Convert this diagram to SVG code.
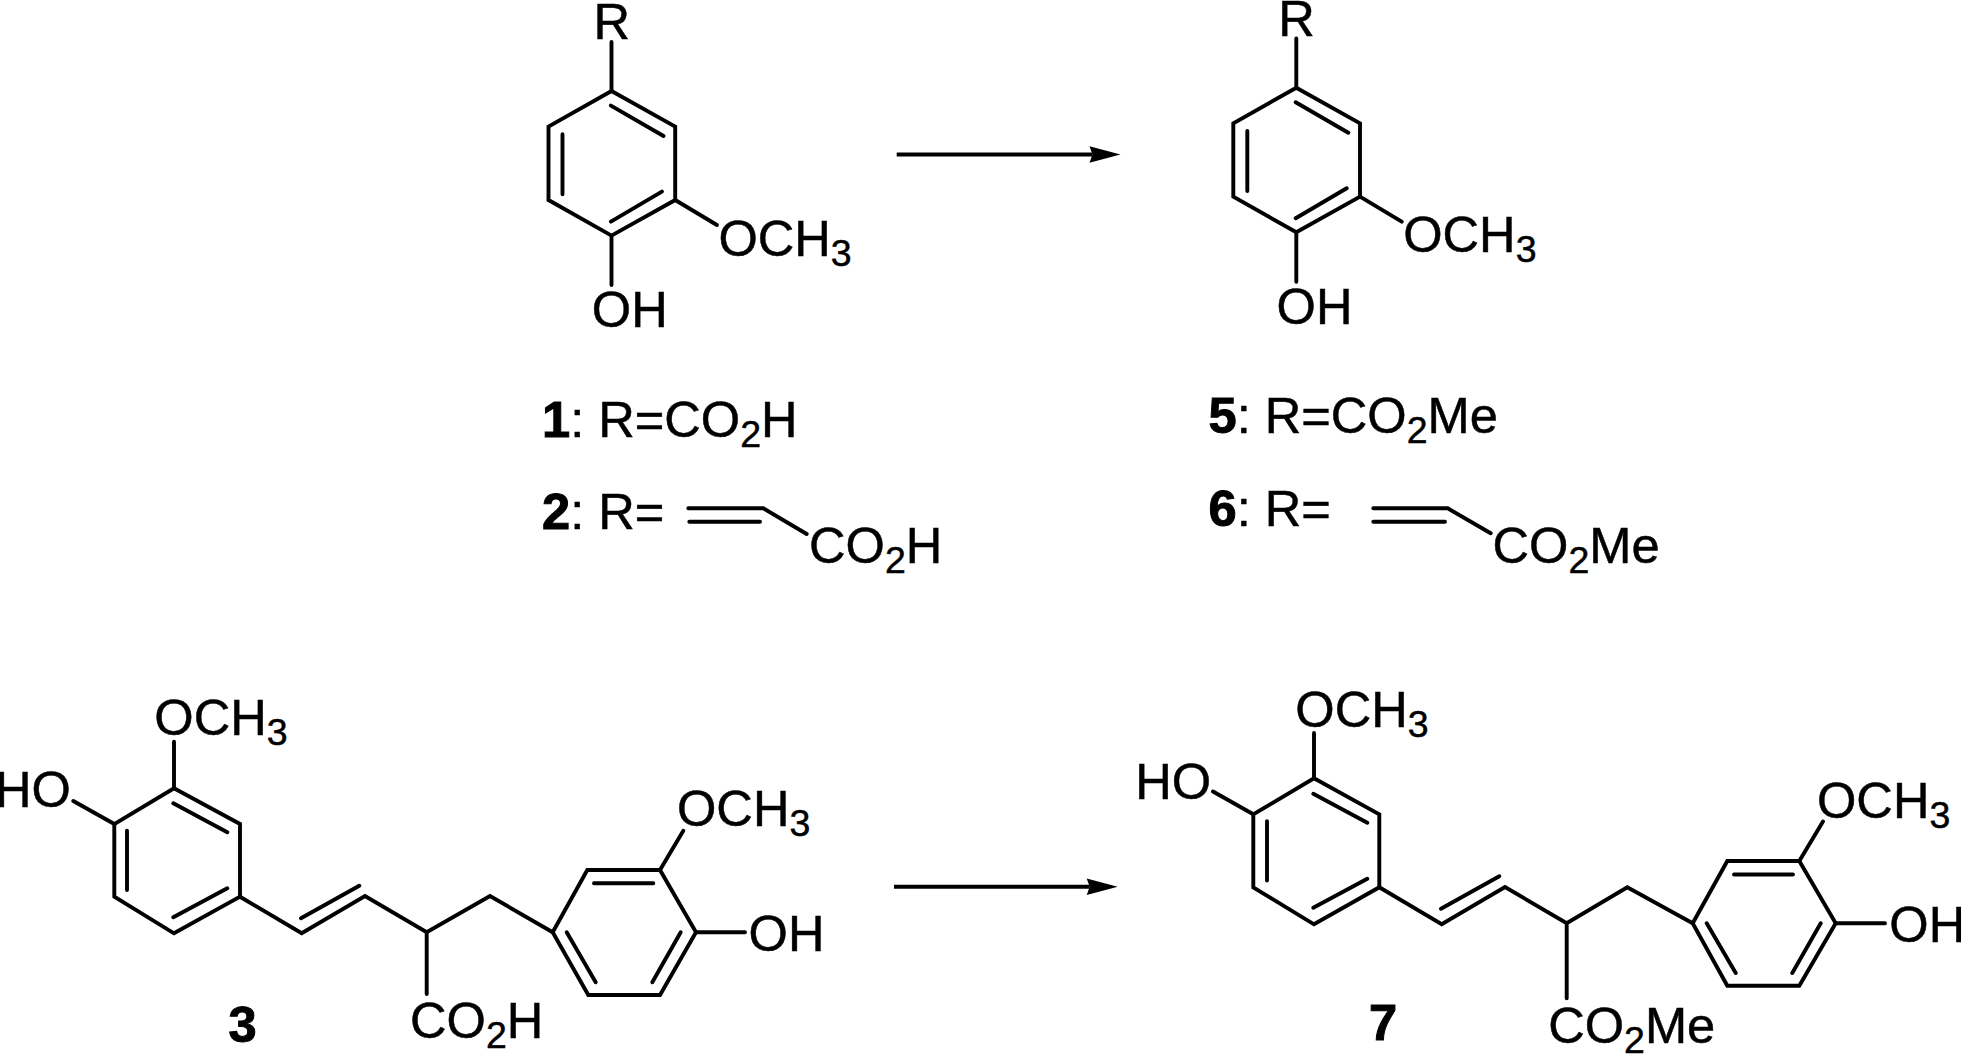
<svg xmlns="http://www.w3.org/2000/svg" width="1961" height="1054" viewBox="0 0 1961 1054">
<style>
.b{fill:none;stroke:#000;stroke-width:3.9;stroke-linejoin:miter;stroke-linecap:round}
.t{font-family:"Liberation Sans",Arial,sans-serif;font-size:50.6px;fill:#000;stroke:#000;stroke-width:0.5}
.s{font-size:37.5px}
.n{font-weight:bold;stroke-width:1}
.a{fill:none;stroke:#000;stroke-width:4}
</style>
<defs>
<marker id="head" markerUnits="userSpaceOnUse" markerWidth="32" markerHeight="18" refX="3" refY="8.5" orient="auto" overflow="visible">
<path d="M0,0.2L31,8.5L0,16.8L3,8.5Z" fill="#000"/>
</marker>
</defs>
<rect width="1961" height="1054" fill="#fff"/>
<g id="connectors">
<path class="a" d="M896.7,154.5H1092.5" marker-end="url(#head)"/>
<path class="a" d="M894,886.7H1089.7" marker-end="url(#head)"/>
</g>
<g id="node-1">
<path class="b" d="M611.5,91L675.2,126.6V200L611.5,235.6L548.5,200V126.6Z"/>
<path class="b" d="M611.5,42V91M610.9,105.6L663.5,136M562.5,134.3V194.3M610.9,221.6L661.9,191.6M611.5,235.6V285M675.2,200L716.9,225"/>
<text class="t" x="593.5" y="39.3">R</text>
<text class="t" x="718.4" y="255.6">OCH<tspan class="s" dy="10">3</tspan></text>
<text class="t" x="591.8" y="327.3">OH</text>
<text class="t" x="542" y="436.7"><tspan class="n">1</tspan>: R=CO<tspan class="s" dy="10">2</tspan><tspan dy="-10">H</tspan></text>
<text class="t" x="542" y="529"><tspan class="n">2</tspan>: R=</text>
<path class="b" d="M688.3,508.3H763.3L806.7,534M689.3,521.7H760"/>
<text class="t" x="809" y="563.3">CO<tspan class="s" dy="10">2</tspan><tspan dy="-10">H</tspan></text>
</g>
<g id="node-5">
<path class="b" d="M1296.3,87.7L1360,123.3V196.7L1296.3,232.3L1233.3,196.7V123.3Z"/>
<path class="b" d="M1296.3,38.5V87.7M1295.7,102.3L1348.3,132.7M1247.3,131V191M1295.7,218.3L1346.7,188.3M1296.3,232.3V281.7M1360,196.7L1401.7,221.7"/>
<text class="t" x="1278.3" y="36">R</text>
<text class="t" x="1403.2" y="252.3">OCH<tspan class="s" dy="10">3</tspan></text>
<text class="t" x="1276.6" y="324">OH</text>
<text class="t" x="1208.5" y="432.7"><tspan class="n">5</tspan>: R=CO<tspan class="s" dy="10">2</tspan><tspan dy="-10">Me</tspan></text>
<text class="t" x="1208.5" y="526"><tspan class="n">6</tspan>: R=</text>
<path class="b" d="M1373.3,508.3H1447.7L1490.7,533.3M1373.3,521.7H1445"/>
<text class="t" x="1492.5" y="563.3">CO<tspan class="s" dy="10">2</tspan><tspan dy="-10">Me</tspan></text>
</g>
<g id="node-3">
<path class="b" d="M174,788.3L240,824V896.7L174,933.3L114.3,896.7V824Z"/>
<path class="b" d="M173.3,803.3L227.3,832.3M127,830.7V890M173.3,917.3L227.3,888.3M174,788.3V741.7M114.3,824L73.3,801"/>
<path class="b" d="M240,896.7L301.7,933.3L365,896L426.7,932.3L490,896L552.7,932.3M301,918.3L359.3,885.7M426.7,932.3V994"/>
<path class="b" d="M552.7,932.3L587.3,870H660L696,932.3L660,995H588.3Z"/>
<path class="b" d="M594,883.3H653.3M566.7,932.3L595.7,982.3M680.7,932.3L652.3,982.3M660,870L683.3,830.7M696,932.3H745"/>
<text class="t" x="154.3" y="735">OCH<tspan class="s" dy="10">3</tspan></text>
<text class="t" x="-5" y="806.7">HO</text>
<text class="t" x="677" y="826">OCH<tspan class="s" dy="10">3</tspan></text>
<text class="t" x="748.6" y="951">OH</text>
<text class="t" x="410" y="1037.7">CO<tspan class="s" dy="10">2</tspan><tspan dy="-10">H</tspan></text>
<text class="t n" x="228.5" y="1041.5">3</text>
</g>
<g id="node-7">
<path class="b" d="M1314,778.3L1379.3,814.3V887.3L1314,924.3L1253.3,887.3V814.3Z"/>
<path class="b" d="M1313.3,793.8L1367.3,822.8M1267,821.2V880.5M1313.3,907.8L1367.3,878.8M1314,778.3V733M1253.3,814.3L1213,791.5"/>
<path class="b" d="M1379.3,887.3L1441.7,924.3L1505,887L1566.7,923.3L1627.3,887.3L1692.7,923.3M1441,908.8L1499.3,876.2M1566.7,923.3V998.3"/>
<path class="b" d="M1692.7,923.3L1727.3,861H1799.3L1835.7,923.3L1799.3,985.7H1727.3Z"/>
<path class="b" d="M1734,874.5H1793M1706.7,923.3L1735.7,973M1820.7,923.3L1792.3,973M1799.3,861L1823,821.5M1835.7,923.3H1885"/>
<text class="t" x="1295.3" y="727.3">OCH<tspan class="s" dy="10">3</tspan></text>
<text class="t" x="1135.3" y="799.3">HO</text>
<text class="t" x="1817" y="818.3">OCH<tspan class="s" dy="10">3</tspan></text>
<text class="t" x="1889.3" y="941.7">OH</text>
<text class="t" x="1548.2" y="1042.7">CO<tspan class="s" dy="10">2</tspan><tspan dy="-10">Me</tspan></text>
<text class="t n" x="1369" y="1039.5">7</text>
</g>
</svg>
